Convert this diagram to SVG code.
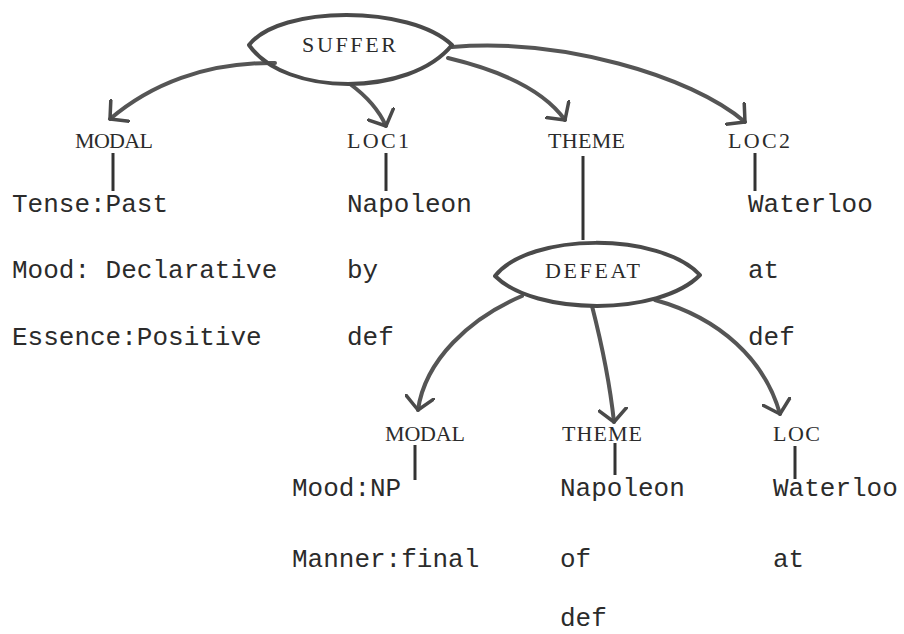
<svg xmlns="http://www.w3.org/2000/svg" width="904" height="634" viewBox="0 0 904 634">
  <defs>
    <style>
      .txt { font-family: "Liberation Mono", "DejaVu Sans Mono", monospace; font-size: 26px; fill: #2b2b2b; }
      .lbl { font-family: "Liberation Serif", "DejaVu Serif", serif; font-size: 22px; fill: #2b2b2b; }
      .edge { fill: none; stroke: #555555; stroke-width: 4; stroke-linecap: round; }
      .lens { fill: none; stroke: #4a4a4a; stroke-width: 4; stroke-linejoin: round; }
      .stem { fill: none; stroke: #333333; stroke-width: 3; }
    </style>
    <marker id="arr" viewBox="0 0 16 30" refX="14" refY="15" markerWidth="16" markerHeight="30" markerUnits="userSpaceOnUse" orient="auto">
      <path d="M1,1 L14,15 L1,29" fill="none" stroke="#4a4a4a" stroke-width="3.5" stroke-linecap="round" stroke-linejoin="round"/>
    </marker>
  </defs>
  <rect width="904" height="634" fill="#ffffff"/>

  <g id="connectors">
    <path class="edge" d="M275,63 C205,62 150,85 110,119" marker-end="url(#arr)"/>
    <path class="edge" d="M350,84 C365,95 378,108 386,126" marker-end="url(#arr)"/>
    <path class="edge" d="M448,58 C490,68 540,85 565,120" marker-end="url(#arr)"/>
    <path class="edge" d="M452,47 C560,38 690,75 745,122" marker-end="url(#arr)"/>
    <path class="edge" d="M522,296 C470,318 425,360 418,410" marker-end="url(#arr)"/>
    <path class="edge" d="M592,306 C602,345 610,385 614,422" marker-end="url(#arr)"/>
    <path class="edge" d="M655,300 C720,318 765,360 780,414" marker-end="url(#arr)"/>
    <line class="stem" x1="113" y1="153" x2="113" y2="191"/>
    <line class="stem" x1="386" y1="153" x2="386" y2="191"/>
    <line class="stem" x1="583" y1="156" x2="583" y2="240"/>
    <line class="stem" x1="755" y1="153" x2="755" y2="191"/>
    <line class="stem" x1="415" y1="445" x2="415" y2="480"/>
    <line class="stem" x1="615" y1="443" x2="615" y2="475"/>
    <line class="stem" x1="795" y1="446" x2="795" y2="479"/>
  </g>

  <g id="suffer">
    <path class="lens" d="M249,45 C280,5 410,5 452,45 C410,97 285,97 249,45 Z"/>
    <text class="lbl" x="302" y="52" textLength="94" lengthAdjust="spacing">SUFFER</text>
  </g>

  <g id="modal1">
    <text class="lbl" x="75" y="148" textLength="78" lengthAdjust="spacing">MODAL</text>
    <text class="txt" x="12" y="212">Tense:Past</text>
    <text class="txt" x="12" y="278">Mood: Declarative</text>
    <text class="txt" x="12" y="345">Essence:Positive</text>
  </g>

  <g id="loc1">
    <text class="lbl" x="347" y="148" textLength="62" lengthAdjust="spacing">LOC1</text>
    <text class="txt" x="347" y="212">Napoleon</text>
    <text class="txt" x="347" y="278">by</text>
    <text class="txt" x="347" y="345">def</text>
  </g>

  <g id="theme1">
    <text class="lbl" x="548" y="148" textLength="77" lengthAdjust="spacing">THEME</text>
  </g>

  <g id="loc2">
    <text class="lbl" x="728" y="148" textLength="62" lengthAdjust="spacing">LOC2</text>
    <text class="txt" x="748" y="212">Waterloo</text>
    <text class="txt" x="748" y="278">at</text>
    <text class="txt" x="748" y="345">def</text>
  </g>

  <g id="defeat">
    <path class="lens" d="M495,276 C530,232 660,232 700,275 C660,316 535,316 495,276 Z"/>
    <text class="lbl" x="545" y="278" textLength="95" lengthAdjust="spacing">DEFEAT</text>
  </g>

  <g id="modal2">
    <text class="lbl" x="385" y="441" textLength="80" lengthAdjust="spacing">MODAL</text>
    <text class="txt" x="292" y="496">Mood:NP</text>
    <text class="txt" x="292" y="567">Manner:final</text>
  </g>

  <g id="theme2">
    <text class="lbl" x="562" y="441" textLength="80" lengthAdjust="spacing">THEME</text>
    <text class="txt" x="560" y="496">Napoleon</text>
    <text class="txt" x="560" y="567">of</text>
    <text class="txt" x="560" y="626">def</text>
  </g>

  <g id="loc">
    <text class="lbl" x="773" y="441" textLength="47" lengthAdjust="spacing">LOC</text>
    <text class="txt" x="773" y="496">Waterloo</text>
    <text class="txt" x="773" y="567">at</text>
  </g>
</svg>
